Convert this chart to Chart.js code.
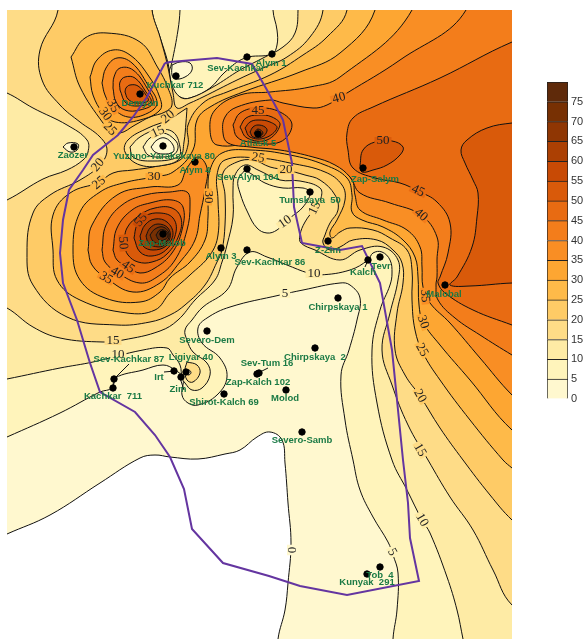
<!DOCTYPE html>
<html>
<head>
<meta charset="utf-8">
<title>Contour map</title>
<script src="https://cdn.jsdelivr.net/npm/chart.js@4"></script>
<style>
  body { margin: 0; background: #fff; }
  #mapa { position: absolute; left: 0; top: 0; }
  #escala { position: absolute; left: 540px; top: 72px; }
</style>
</head>
<body>
<canvas id="mapa" width="584" height="639"></canvas>
<canvas id="escala" width="44" height="340"></canvas>
<script>
// colour of each band, from 0-5 up to 75-80
const bandColors = ['#FFF8CF','#FFF4BB','#FEEBA5','#FEDC87','#FECB66','#FEBA49','#FDA632','#F98E24',
                    '#F37D1B','#E86B12','#D95A0A','#C84A05','#AC4003','#8F3603','#773003','#5F2A0A'];
const scaleTicks = [0,5,10,15,20,25,30,35,40,45,50,55,60,65,70,75];

// --- contours, [x, y] in map units ---
const c0 = [[-50,560],[7,534],[50,515],[100,483],[140,458],[155,455],[170,457],[198,459],[225,454],[240,450],[257,437],[270,432],[282,440],[285,463],[288,503],[291,543],[288,583],[285,610],[278,639],[270,720],[620,720],[620,-50],[-50,-50]];
const c5 = [[-50,462],[7,437],[60,413],[100,392],[112,388],[115,378],[143,370],[163,365],[175,370],[183,378],[182,395],[188,403],[198,405],[217,395],[227,377],[220,358],[202,343],[198,328],[207,318],[230,307],[280,295],[303,290],[340,283],[350,285],[360,298],[357,320],[349,350],[341,375],[345,420],[353,460],[360,490],[373,517],[388,542],[393,555],[398,573],[397,610],[393,639],[390,720],[620,720],[620,-50],[-50,-50]];
const c10 = [[-50,390],[7,379],[60,368],[93,362],[143,350],[167,348],[173,355],[180,365],[182,378],[185,383],[192,390],[202,388],[210,375],[207,363],[193,352],[187,340],[185,330],[192,320],[203,307],[227,290],[237,267],[250,252],[267,257],[287,265],[308,273],[320,275],[350,270],[368,260],[373,253],[382,252],[390,260],[392,273],[390,285],[380,310],[372,350],[377,403],[392,460],[407,490],[422,520],[430,533],[447,577],[457,610],[463,639],[480,720],[620,720],[620,-50],[273,-50],[273,10],[277,30],[277,45],[272,54],[245,58],[225,72],[210,88],[190,98],[180,97],[172,90],[168,78],[172,62],[178,30],[180,10],[182,-50],[-50,-50]];
const c15 = [[-50,280],[7,308],[33,327],[60,338],[103,342],[123,340],[160,331],[178,320],[195,300],[215,280],[222,262],[227,245],[233,217],[233,190],[235,175],[245,165],[258,170],[280,180],[300,181],[320,188],[321,198],[315,208],[305,222],[300,235],[301,243],[315,250],[340,260],[360,250],[383,247],[398,260],[398,280],[390,313],[382,350],[392,385],[408,425],[428,460],[450,497],[473,530],[493,570],[512,605],[620,700],[620,-50],[298,-50],[298,10],[295,33],[283,47],[263,58],[240,70],[213,87],[190,98],[180,97],[172,85],[168,63],[160,37],[152,10],[150,-50],[-50,-50]];
const c20 = [[58,-50],[58,10],[40,50],[42,80],[60,105],[80,122],[100,137],[107,150],[100,165],[80,180],[50,195],[33,213],[27,253],[33,285],[67,317],[117,325],[150,322],[170,315],[185,305],[205,285],[217,262],[222,250],[225,225],[225,195],[223,173],[237,162],[253,160],[270,167],[286,170],[305,175],[320,180],[335,195],[338,210],[330,223],[325,235],[323,243],[330,250],[340,247],[353,240],[377,240],[393,250],[402,263],[403,283],[397,313],[395,350],[405,375],[420,396],[440,428],[463,460],[490,495],[512,520],[620,620],[620,-50],[323,-50],[323,10],[310,37],[287,57],[263,68],[237,80],[203,97],[190,103],[177,108],[173,93],[167,63],[160,37],[152,10],[148,-50]];
const c25 = [[99,183],[70,193],[53,215],[53,250],[57,280],[80,300],[127,313],[155,310],[170,293],[190,275],[210,255],[218,235],[218,200],[217,175],[225,160],[258,158],[290,163],[325,172],[342,185],[345,200],[337,220],[330,232],[332,238],[340,232],[350,228],[373,230],[390,238],[407,250],[412,270],[412,300],[415,330],[423,353],[440,380],[470,420],[503,460],[512,468],[620,560],[620,-50],[347,-50],[347,10],[327,37],[303,55],[270,75],[227,92],[203,103],[188,125],[188,145],[180,160],[153,167],[133,170],[113,173],[99,183]];
const c30 = [[154,177],[123,183],[100,192],[80,212],[73,250],[80,280],[105,298],[140,302],[160,292],[170,278],[190,262],[205,240],[208,217],[208,197],[210,170],[222,153],[250,150],[290,155],[325,165],[347,178],[352,195],[352,212],[362,220],[383,227],[403,240],[415,257],[418,277],[419,305],[423,322],[440,345],[470,380],[512,430],[620,520],[620,-50],[375,-50],[375,10],[340,53],[300,72],[243,92],[210,107],[197,120],[193,150],[173,172],[154,177]];
const c35 = [[412,-50],[412,10],[340,77],[310,87],[270,92],[240,95],[215,110],[210,130],[217,145],[260,143],[300,150],[335,163],[352,180],[355,195],[360,210],[383,220],[407,230],[420,247],[422,267],[423,287],[430,303],[450,323],[480,358],[512,395],[620,500],[620,-50]];
const c40 = [[466,-50],[466,10],[400,60],[347,93],[327,105],[313,108],[283,103],[270,100],[237,107],[225,117],[223,133],[228,143],[250,147],[280,150],[313,157],[335,165],[350,177],[360,193],[390,203],[421,215],[437,237],[437,260],[437,277],[436,285],[438,300],[455,318],[480,335],[512,355],[620,420],[620,-50]];
const c45 = [[620,0],[512,42],[440,78],[373,107],[353,118],[347,133],[348,150],[353,168],[375,178],[400,183],[418,191],[437,202],[450,223],[448,253],[440,277],[438,283],[445,293],[473,310],[512,325],[620,365]];
const c50 = [[620,110],[512,123],[487,128],[467,140],[461,150],[465,163],[473,180],[478,193],[477,217],[472,247],[457,277],[450,285],[470,286],[512,283],[620,280]];
const salym50 = [[360,165],[363,150],[375,142],[392,141],[403,147],[400,155],[387,165],[373,170],[362,172]];

// Zap-Malob hill
const hill35 = [[88,250],[92,225],[117,195],[150,187],[178,185],[187,168],[198,157],[207,168],[205,190],[200,215],[195,240],[180,262],[160,283],[133,292],[106,278],[92,265]];
const hill40 = [[102,250],[106,225],[122,205],[145,195],[170,192],[187,192],[190,205],[187,230],[175,260],[157,277],[140,283],[118,273],[105,262]];
const hill45 = [[113,250],[117,228],[132,210],[150,203],[172,200],[183,207],[182,230],[172,253],[155,268],[140,273],[128,267],[117,260]];
const hill50 = [[124,245],[127,228],[140,215],[155,208],[172,208],[181,218],[179,235],[167,254],[152,262],[138,262],[128,255]];
const hill55 = [[134,238],[137,225],[145,216],[160,213],[173,218],[176,232],[167,249],[152,256],[140,252]];
const hill60 = [[140,236],[145,225],[155,219],[167,222],[173,234],[166,246],[153,250],[143,246]];
const hill65 = [[146,236],[150,228],[158,224],[168,228],[170,238],[163,246],[153,246],[148,242]];
const hill70 = [[150,235],[155,229],[163,227],[169,233],[167,241],[160,244],[153,241]];
const hill75 = [[156,235],[160,230],[166,231],[168,236],[164,240],[159,240]];

// Demyan hill
const dem25 = [[71,57],[80,87],[103,123],[110,129],[120,133],[135,125],[150,117],[165,112],[172,105],[168,88],[158,68],[140,42],[107,33],[85,38]];
const dem30 = [[90,77],[97,60],[113,50],[130,55],[148,75],[160,98],[160,110],[140,120],[115,122],[103,113],[93,95]];
const dem35 = [[102,83],[106,68],[117,58],[132,63],[148,85],[157,103],[148,113],[128,117],[112,107],[105,95]];
const dem40 = [[113,88],[114,77],[120,68],[133,70],[147,88],[153,103],[140,110],[125,110],[116,102]];
const dem45 = [[120,90],[120,82],[125,77],[135,78],[146,92],[151,102],[138,106],[126,103]];
const dem50 = [[125,92],[126,88],[130,85],[138,86],[146,95],[148,101],[136,103],[128,99]];

// Atlask hill
const atl45 = [[233,125],[240,113],[258,108],[280,112],[292,125],[280,142],[250,142],[237,137]];
const atl50 = [[240,127],[246,118],[258,115],[272,117],[280,125],[267,140],[247,138]];
const atl55 = [[245,128],[250,122],[258,120],[270,122],[277,128],[265,138],[250,137]];
const atl60 = [[250,132],[253,127],[258,125],[265,127],[267,131],[262,137],[253,137]];
const atl65 = [[254,133],[258,129],[263,133],[258,137]];

// small closed lows and highs
const zaozerLow = [[-50,70],[7,93],[33,108],[67,125],[87,140],[88,152],[83,160],[67,170],[43,179],[7,200],[-50,225]];
const zaozerPit = [[63,147],[68,143],[78,144],[77,150],[70,152]];
const yuzhno20 = [[187,108],[168,120],[148,128],[128,140],[125,152],[140,165],[165,165],[180,158],[184,142],[186,122]];
const yuzhno15 = [[130,147],[140,137],[157,130],[173,132],[180,147],[178,157],[150,161],[133,157]];
const yuzhno10 = [[143,147],[150,138],[163,133],[175,140],[178,148],[173,155],[158,157],[148,155]];
const yuzhno5 = [[151,147],[157,140],[165,138],[173,145],[173,152],[163,154],[155,152]];
const valley10 = [[245,170],[238,180],[240,193],[248,213],[257,228],[267,233],[277,230],[290,218],[303,207],[310,193],[303,188],[283,188],[265,183],[253,175]];
const kachkarPit = [[172,65],[180,62],[190,63],[192,70],[185,77],[175,79],[172,75]];
const ligiyar15 = [[187,362],[197,365],[200,373],[193,382],[187,380],[185,370]];
const ligiyarPit = [[186,372],[189,370],[191,373],[188,375]];

// licence area outline
const outline = [[165,63],[170,62],[217,58],[252,64],[267,90],[283,120],[292,163],[294,207],[302,243],[313,245],[340,250],[362,246],[380,283],[392,350],[403,460],[408,503],[410,538],[419,581],[347,595],[300,586],[269,576],[223,563],[192,529],[184,489],[170,457],[155,435],[135,412],[100,392],[90,363],[77,320],[63,283],[60,253],[63,220],[69,190],[83,170],[93,155],[118,135],[133,117],[147,97],[165,63]];

// wells
const wellNames = ['Demyan','Kuchkar 712','Sev-Kachkar','Alym 1','Zaozer','Yuzhno-Yarakskaya 80','Alym 4','Atlask 5','Zap-Salym','Sev-Alym 104','Tumskaya  50','Zap-Malob','Alym 3','Sev-Kachkar 86','Z-Zim','Tevr','Kalch','Malobal','Chirpskaya 1','Severo-Dem','Chirpskaya  2','Ligiyar 40','Sev-Tum 16','Sev-Kachkar 87','Irt','Zim','Kachkar  711','Zap-Kalch 102','Shirot-Kalch 69','Molod','Severo-Samb','Tob  4','Kunyak  291'];
const wellX = [140,176,247,272,74,163,195,258,363,247,310,163,221,247,328,380,368,445,338,207,315,186,259,114,174,181,113,257,224,286,302,380,367];
const wellY = [94,76,57,54,147,146,162,134,168,169,192,234,248,250,241,257,260,285,298,331,348,372,373,379,371,377,388,374,394,390,432,567,574];
const labelX = [140,175,236,271,73,164,195,258,375,248,310,162,221,270,328,381,363,444,338,207,315,191,267,129,159,178,113,258,224,285,302,380,367];
const labelY = [103,85,68,63,155,156,170,143,179,177,200,243,256,262,250,266,272,294,307,340,357,357,363,359,377,389,396,382,402,398,440,575,582];

// short leader lines from a label to its well
const leaders = [[[129,364],[115,378]],[[164,372],[175,371]],[[268,368],[258,373]],[[365,267],[368,260]],[[184,390],[180,378]],[[113,388],[115,378]]];

// contour labels: text, x, y, rotation in degrees
const contourLabels = [['35',113,106,60],['30',105,114,55],['25',110,129,45],['20',168,117,-40],['15',158,132,-25],['20',98,165,-50],['25',99,183,-40],['30',154,177,0],['30',208,197,90],['55',141,220,-50],['50',123,243,85],['45',128,267,35],['40',117,273,30],['35',106,278,30],['15',113,341,0],['10',118,355,0],['5',285,294,0],['10',314,274,0],['10',285,222,-35],['15',315,208,-65],['20',286,170,0],['25',258,158,10],['45',258,111,0],['40',339,98,-15],['50',383,141,0],['45',418,191,25],['40',421,215,40],['35',425,296,85],['30',423,322,70],['25',422,350,60],['20',420,396,60],['15',420,450,60],['10',422,520,60],['5',392,552,60],['0',291,550,90]];

// paint order: [points, band index used as fill]
const paintOrder = [
    [c0,0],[c5,1],[c10,2],[c15,3],[c20,4],[zaozerLow,2],[zaozerPit,0],
    [dem25,5],[dem30,6],[dem35,7],[dem40,8],[dem45,9],[dem50,10],
    [c25,5],[c30,6],[c35,7],[c40,8],[c45,9],[c50,10],[salym50,10],
    [hill35,7],[hill40,8],[hill45,9],[hill50,10],[hill55,11],[hill60,12],[hill65,13],[hill70,14],[hill75,15],
    [atl45,9],[atl50,10],[atl55,11],[atl60,12],[atl65,13],
    [yuzhno20,3],[yuzhno15,2],[yuzhno10,1],[yuzhno5,0],
    [valley10,1],[kachkarPit,0],[ligiyar15,3],[ligiyarPit,1]
];
const openEnded = [c0,c5,c10,c15,c20,c35,c40,c45,c50,zaozerLow];

function toPoints(arr) {
    const p = arr.map(a => ({x: a[0], y: a[1]}));
    if (!openEnded.includes(arr)) p.push({x: arr[0][0], y: arr[0][1]});
    return p;
}

const datasets = paintOrder.map(item => ({
    data: toPoints(item[0]),
    showLine: true,
    fill: 'shape',
    backgroundColor: bandColors[item[1]],
    borderColor: '#111',
    borderWidth: 1,
    tension: 0.4,
    pointRadius: 0
}));

datasets.push({
    data: outline.map(a => ({x: a[0], y: a[1]})),
    showLine: true, fill: false, borderColor: '#6435A0', borderWidth: 2, tension: 0, pointRadius: 0
});
leaders.forEach(l => datasets.push({
    data: l.map(a => ({x: a[0], y: a[1]})),
    showLine: true, fill: false, borderColor: '#111', borderWidth: 1, tension: 0, pointRadius: 0
}));
datasets.push({
    data: wellX.map((x, i) => ({x: x, y: wellY[i]})),
    showLine: false, pointRadius: 3.2, backgroundColor: '#000', borderColor: '#000'
});

// later entries must land on top, chart.js paints the first dataset last
datasets.reverse();

const textPlugin = {
    id: 'textos',
    afterDatasetsDraw(chart) {
        const ctx = chart.ctx, sx = chart.scales.x, sy = chart.scales.y;
        ctx.save();
        ctx.textAlign = 'center';
        ctx.textBaseline = 'middle';
        ctx.font = '13px "Liberation Serif"';
        contourLabels.forEach(l => {
            ctx.save();
            ctx.translate(sx.getPixelForValue(l[1]), sy.getPixelForValue(l[2]));
            ctx.rotate(l[3] * Math.PI / 180);
            ctx.fillStyle = bandColors[Math.floor(+l[0] / 5)];
            const w = ctx.measureText(l[0]).width + 4;
            ctx.fillRect(-w / 2, -4, w, 8);
            ctx.fillStyle = '#222';
            ctx.fillText(l[0], 0, 0);
            ctx.restore();
        });
        ctx.font = 'bold 9.5px "Liberation Sans"';
        ctx.fillStyle = '#1B7A45';
        wellNames.forEach((n, i) => {
            ctx.fillText(n, sx.getPixelForValue(labelX[i]), sy.getPixelForValue(labelY[i]));
        });
        ctx.restore();
    }
};

new Chart(document.getElementById('mapa'), {
    type: 'scatter',
    data: {datasets: datasets},
    plugins: [textPlugin],
    options: {
        responsive: false,
        animation: false,
        events: [],
        layout: {autoPadding: false, padding: {left: 7, right: 72, top: 10, bottom: 0}},
        elements: {line: {capBezierPoints: false}},
        plugins: {legend: {display: false}, tooltip: {enabled: false}},
        scales: {
            x: {type: 'linear', min: 7, max: 512, display: false},
            y: {type: 'linear', min: 10, max: 639, reverse: true, display: false}
        }
    }
});

// colour key
new Chart(document.getElementById('escala'), {
    type: 'bar',
    data: {
        labels: [''],
        datasets: bandColors.map(c => ({
            data: [5], backgroundColor: c, borderColor: '#222', borderWidth: 1,
            barPercentage: 1, categoryPercentage: 1
        }))
    },
    options: {
        responsive: false,
        animation: false,
        events: [],
        layout: {padding: {left: 7, right: 0, top: 10, bottom: 13}},
        plugins: {legend: {display: false}, tooltip: {enabled: false}},
        scales: {
            x: {stacked: true, display: false},
            y: {
                stacked: true, position: 'right', min: 0, max: 80,
                afterFit(s) { s.width = 16; },
                grid: {drawOnChartArea: false, drawTicks: false},
                border: {display: false},
                ticks: {
                    stepSize: 5, padding: 3, color: '#333', autoSkip: false,
                    font: {family: 'Liberation Sans', size: 11},
                    callback: v => scaleTicks.includes(v) ? v : ''
                }
            }
        }
    }
});
</script>
</body>
</html>
